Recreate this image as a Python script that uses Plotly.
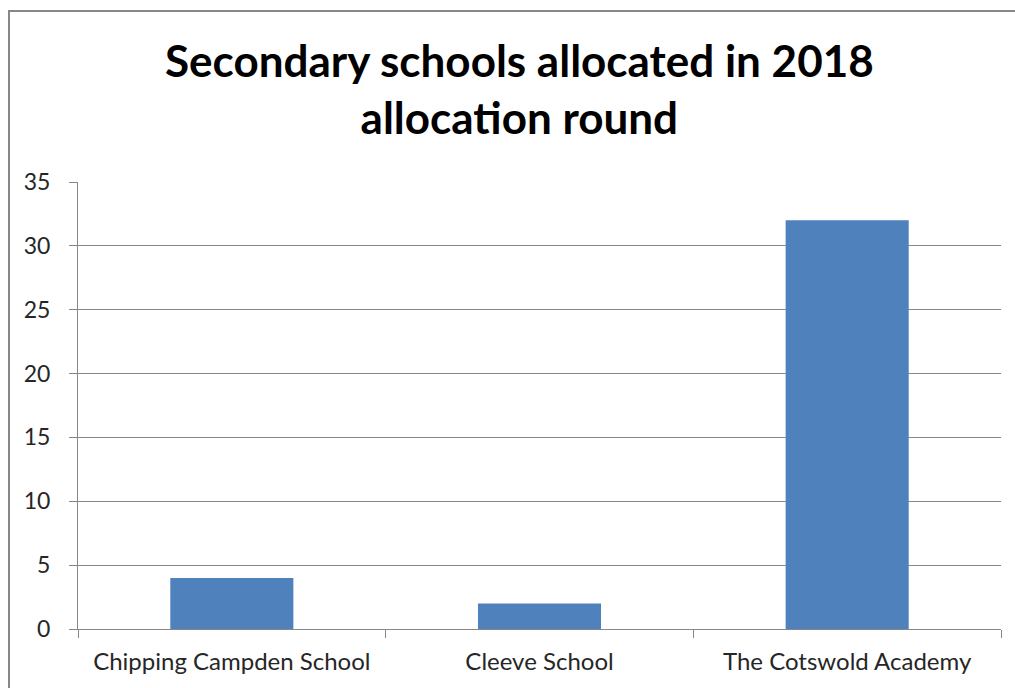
import plotly.graph_objects as go

# Schools and the number of pupils allocated to each
schools = ["Chipping Campden School", "Cleeve School", "The Cotswold Academy"]
allocated = [4, 2, 32]
y_ticks = [0, 5, 10, 15, 20, 25, 30, 35]

W, H = 1015, 688
L, R, T, B = 78, 14, 182, 59
plot_w = W - L - R
plot_h = H - T - B


def px_x(px):
    return (px - L) / plot_w


def px_y(py):
    return (H - B - py) / plot_h


fig = go.Figure(
    go.Bar(
        x=schools,
        y=allocated,
        marker=dict(color="#4F81BD", line=dict(width=0)),
        width=0.4,
    )
)

grid_col = "#888888"
fig.update_layout(
    width=W,
    height=H,
    margin=dict(l=L, r=R, t=T, b=B),
    paper_bgcolor="white",
    plot_bgcolor="white",
    showlegend=False,
    font=dict(family="Lato", color="#262626"),
    xaxis=dict(
        showline=True,
        linecolor=grid_col,
        linewidth=1,
        ticks="outside",
        tickson="boundaries",
        ticklen=8,
        tickcolor=grid_col,
        tickfont=dict(size=24),
        ticklabelstandoff=11,
        showgrid=False,
    ),
    yaxis=dict(
        range=[0, 35],
        tickvals=y_ticks,
        showline=True,
        linecolor=grid_col,
        linewidth=1,
        ticks="outside",
        ticklen=8,
        tickcolor=grid_col,
        tickfont=dict(size=23),
        showgrid=True,
        gridcolor=grid_col,
        gridwidth=1,
        zeroline=False,
        ticklabelstandoff=14,
    ),
    annotations=[
        dict(
            text="Secondary schools allocated in 2018<br>allocation round",
            font=dict(family="Lato", size=44, color="black", weight="bold"),
            xref="paper",
            yref="paper",
            x=px_x(519),
            y=px_y(89),
            xanchor="center",
            yanchor="middle",
            showarrow=False,
        )
    ],
    shapes=[
        dict(
            type="rect",
            xref="paper",
            yref="paper",
            x0=px_x(9),
            x1=px_x(W + 20),
            y0=px_y(H + 20),
            y1=px_y(11),
            line=dict(color="#878787", width=2),
            fillcolor="rgba(0,0,0,0)",
            layer="below",
        )
    ],
)

fig.write_html("out.html")
